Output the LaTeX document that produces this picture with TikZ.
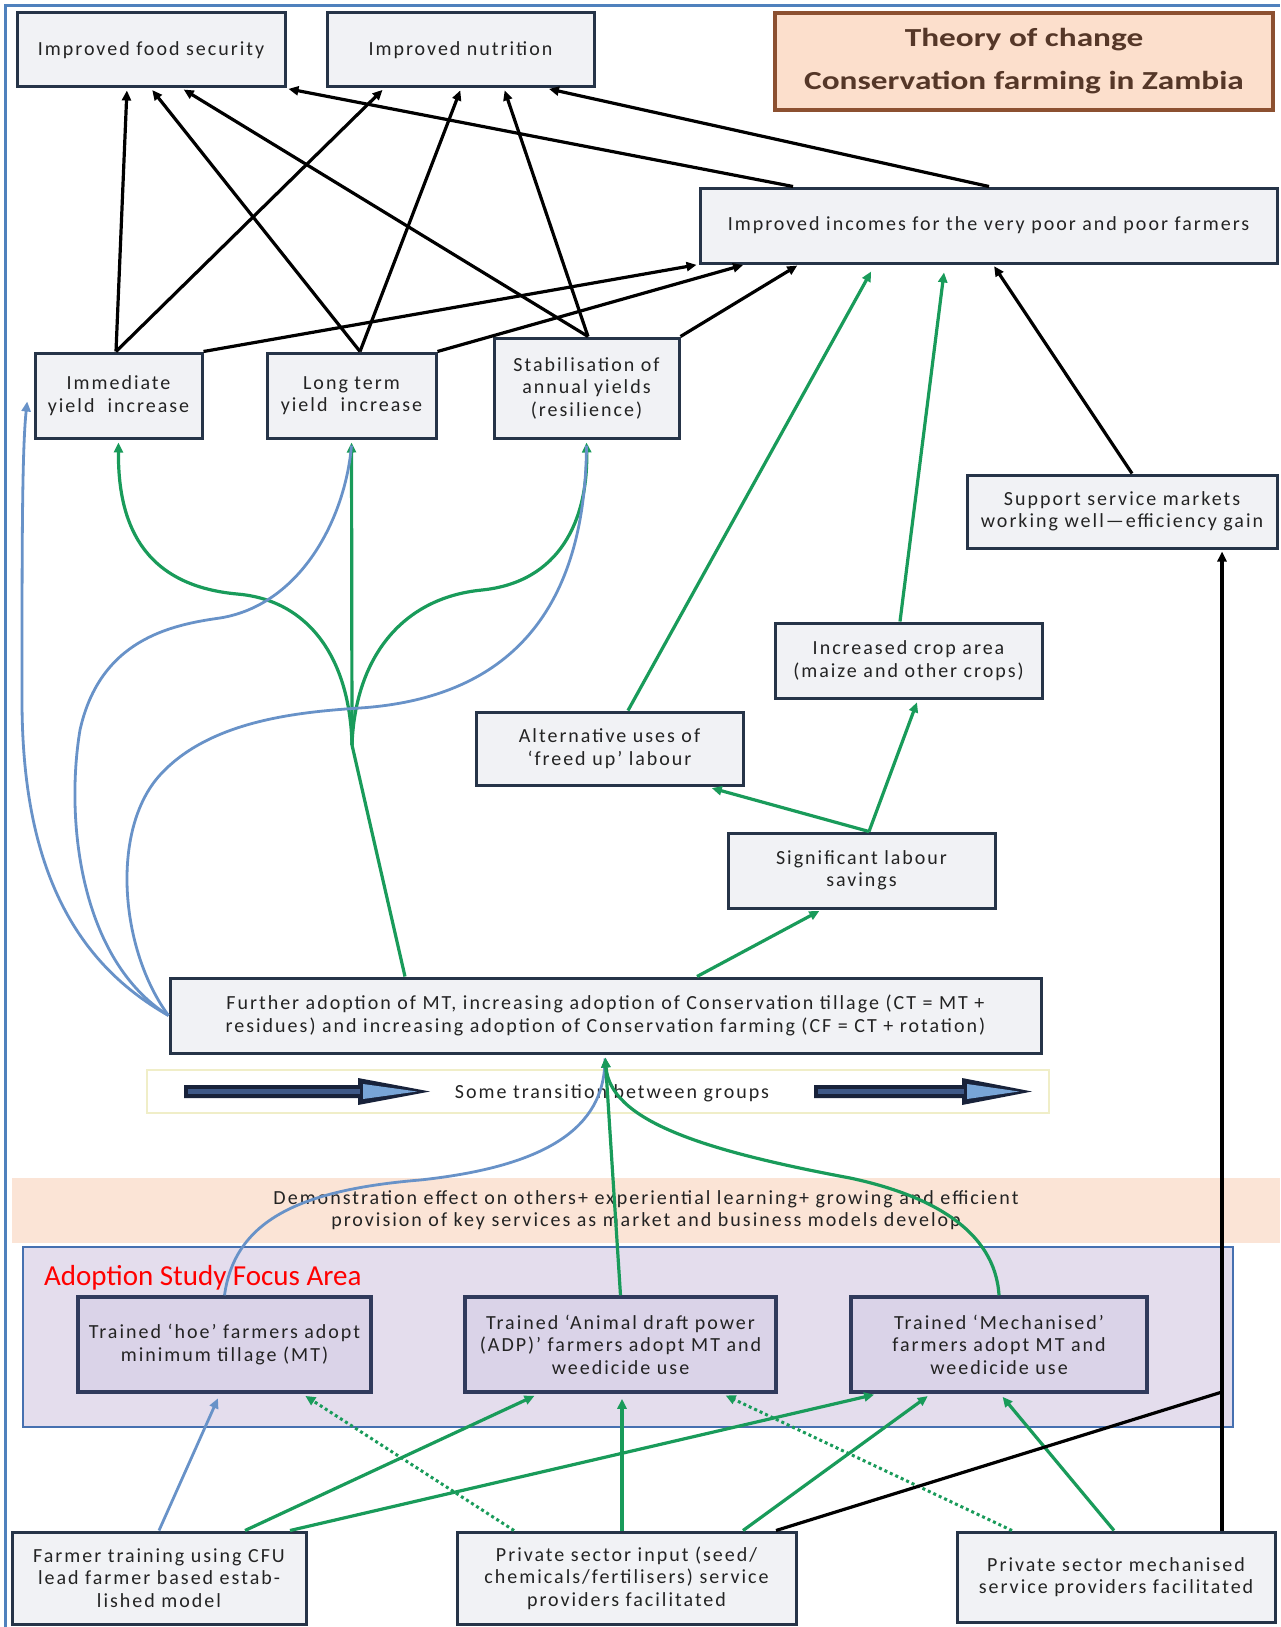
\documentclass[tikz,border=0pt]{standalone}
\usepackage{fontspec}
\setmainfont{Carlito}
\newfontfamily\bxfont[LetterSpace=10]{Carlito}
\usetikzlibrary{arrows.meta,calc}
\definecolor{boxline}{RGB}{38,52,72}
\definecolor{boxfill}{RGB}{241,242,245}
\definecolor{grn}{RGB}{25,155,90}
\definecolor{blu}{RGB}{104,146,200}
\definecolor{frameblue}{RGB}{79,129,189}
\definecolor{titlefill}{RGB}{252,223,204}
\definecolor{titleline}{RGB}{140,80,48}
\definecolor{titletext}{RGB}{85,55,40}
\definecolor{demofill}{RGB}{251,228,214}
\definecolor{focusfill}{RGB}{228,221,237}
\definecolor{focusline}{RGB}{70,112,176}
\definecolor{trainfill}{RGB}{218,211,232}
\definecolor{trainline}{RGB}{48,58,92}
\definecolor{arrdark}{RGB}{24,34,58}
\definecolor{arrmid}{RGB}{62,88,135}
\definecolor{arrlight}{RGB}{120,165,215}
\definecolor{transline}{RGB}{240,238,200}
\definecolor{txt}{RGB}{35,35,35}
\begin{document}
\begin{tikzpicture}[x=1pt,y=-1pt,
  box/.style={draw=boxline,line width=3pt,fill=boxfill,inner sep=0pt,align=center,text=txt,
    font=\bxfont\fontsize{20}{22.5}\selectfont},
  tbox/.style={box,draw=trainline,line width=3.5pt,fill=trainfill},
  tip/.style={-{Triangle[length=10pt,width=9pt]}},
  blk/.style={draw=black,line width=3.2pt,tip,shorten >=2pt},
  bkline/.style={draw=black,line width=3.2pt},
  garr/.style={draw=grn,line width=3.2pt,tip,shorten >=3pt},
  gline/.style={draw=grn,line width=3.2pt},
  bline/.style={draw=blu,line width=2.8pt},
  barr/.style={bline,tip,shorten >=3pt},
  gdot/.style={draw=grn,line width=3pt,dash pattern=on 3pt off 3pt,tip,shorten >=4pt}
]
\useasboundingbox (0,0) rectangle (1280,1627);
\fill[white] (0,0) rectangle (1280,1627);
% frame
\draw[frameblue,line width=3pt] (5,1627) -- (5,6) -- (1280,6);

% bands
\node[fill=demofill,minimum width=1268pt,minimum height=65pt,inner sep=0pt,align=center,text=txt,
  font=\bxfont\fontsize{20}{22}\selectfont] (demo) at (646,1210.5)
  {Demonstration effect on others+ experiential learning+ growing and efficient\\
   provision of key services as market and business models develop};
\node[draw=focusline,line width=2pt,fill=focusfill,minimum width=1210pt,minimum height=180pt,inner sep=0pt] (focus) at (628,1337) {};
\node[text=red,font=\fontsize{29}{30}\selectfont,anchor=west,inner sep=0pt] (lbl) at (44,1278) {Adoption Study Focus Area};
\node[draw=transline,line width=1.5pt,fill=white,minimum width=902pt,minimum height=43pt,inner sep=0pt] (trans) at (598,1091.5) {};
\node[text=txt,font=\bxfont\fontsize{20}{22}\selectfont,inner sep=0pt] (transtxt) at (612,1093) {Some transition between groups};
% block arrows
\fill[arrdark] (184,1085) -- (358,1085) -- (358,1078) -- (430,1091.5) -- (358,1105) -- (358,1098) -- (184,1098) -- cycle;
\fill[arrmid] (188,1089) -- (360,1089) -- (360,1094) -- (188,1094) -- cycle;
\fill[arrlight] (363,1084) -- (417,1091.5) -- (363,1099) -- cycle;
\fill[arrdark] (814,1085) -- (962,1085) -- (962,1078) -- (1032,1091.5) -- (962,1105) -- (962,1098) -- (814,1098) -- cycle;
\fill[arrmid] (818,1089) -- (964,1089) -- (964,1094) -- (818,1094) -- cycle;
\fill[arrlight] (967,1084) -- (1019,1091.5) -- (967,1099) -- cycle;

% title
\node[draw=titleline,line width=3.5pt,fill=titlefill,minimum width=498pt,minimum height=97pt,inner sep=0pt,
  align=center,text=titletext,font=\bfseries\fontsize{26}{43}\selectfont] (title) at (1024,61.5)
  {\scalebox{1.28}[1]{Theory of change}\\\scalebox{1.28}[1]{Conservation farming in Zambia}};

% boxes
\node[box,minimum width=268pt,minimum height=74pt] (fs) at (151,50) {Improved food security};
\node[box,minimum width=267pt,minimum height=74pt] (nut) at (460.5,50) {Improved nutrition};
\node[box,minimum width=577pt,minimum height=75pt] (inc) at (988.5,225.5) {Improved incomes for the very poor and poor farmers};
\node[box,minimum width=167pt,minimum height=85pt] (imm) at (118.5,395.5) {Immediate\\yield\ \ increase};
\node[box,minimum width=169pt,minimum height=85pt] (lt) at (351.5,395.5) {Long term\\yield\ \ increase};
\node[box,minimum width=185pt,minimum height=100pt] (stab) at (586.5,388) {Stabilisation of\\annual yields\\(resilience)};
\node[box,minimum width=310pt,minimum height=73pt] (sup) at (1122,511.5) {Support service markets\\working well—efficiency gain};
\node[box,minimum width=267pt,minimum height=75pt] (crop) at (908.5,660.5) {Increased crop area\\(maize and other crops)};
\node[box,minimum width=267pt,minimum height=73pt] (alt) at (609.5,748.5) {Alternative uses of\\‘freed up’ labour};
\node[box,minimum width=267pt,minimum height=75pt] (lab) at (861.5,870.5) {Significant labour\\savings};
\node[box,minimum width=871pt,minimum height=75pt] (fur) at (605.5,1015.5)
  {Further adoption of MT, increasing adoption of Conservation tillage (CT = MT +\\
   residues) and increasing adoption of Conservation farming (CF = CT + rotation)};
\node[tbox,minimum width=293pt,minimum height=95pt] (hoe) at (224.5,1344.5) {Trained ‘hoe’ farmers adopt\\minimum tillage (MT)};
\node[tbox,minimum width=311pt,minimum height=95pt] (adp) at (620.5,1344.5) {Trained ‘Animal draft power\\(ADP)’ farmers adopt MT and\\weedicide use};
\node[tbox,minimum width=296pt,minimum height=95pt] (mech) at (999,1344.5) {Trained ‘Mechanised’\\farmers adopt MT and\\weedicide use};
\node[box,minimum width=294pt,minimum height=92pt] (ft) at (159,1578) {Farmer training using CFU\\lead farmer based estab-\\lished model};
\node[box,minimum width=339pt,minimum height=92pt] (psi) at (626.5,1578) {Private sector input (seed/\\chemicals/fertilisers) service\\providers facilitated};
\node[box,minimum width=318pt,minimum height=90pt] (psm) at (1116,1577) {Private sector mechanised\\service providers facilitated};

% top black arrows
\draw[blk] (imm.north -| 116,0) -- (fs.south -| 127,0);
\draw[blk] (imm.north -| 116,0) -- (nut.south -| 384,0);
\draw[blk] (lt.north -| 360,0) -- (fs.south -| 151,0);
\draw[blk] (lt.north -| 360,0) -- (nut.south -| 461,0);
\draw[blk] (stab.north -| 588,0) -- (fs.south -| 182,0);
\draw[blk] (stab.north -| 588,0) -- (nut.south -| 504,0);
\draw[blk] (imm.north east) -- (inc.south west);
\draw[blk] (lt.north east) -- (inc.south -| 745,0);
\draw[blk] (stab.north east) -- (inc.south -| 799,0);
\draw[blk] (inc.north -| 793,0) -- (fs.south east);
\draw[blk] (inc.north -| 989,0) -- (nut.south -| 547,0);
\draw[blk] (sup.north -| 1132,0) -- (inc.south -| 993,0);

% green arrows middle
\draw[garr,shorten >=8pt] (alt.north -| 628,0) -- (inc.south -| 875,0);
\draw[garr,shorten >=8pt] (crop.north -| 900,0) -- (inc.south -| 945,0);
\draw[garr,shorten >=6pt] (lab.north -| 869,0) -- (alt.south -| 706,0);
\draw[garr] (lab.north -| 869,0) -- (crop.south -| 918,0);
\draw[garr] (fur.north -| 697,0) -- (lab.south -| 822,0);

% branching green from further adoption
\coordinate (jn) at (352,745);
\draw[gline] (fur.north -| 405,0) -- (jn);
\draw[garr] (jn) -- (lt.south);
\draw[garr] (jn) .. controls (350,660) and (310,600) .. (237,594) .. controls (140,585) and (118,520) .. (imm.south);
\draw[garr] (jn) .. controls (355,660) and (400,598) .. (482,590) .. controls (560,582) and (588,520) .. (stab.south);

% blue curves from further adoption
\draw[barr] (fur.west) .. controls (70,960) and (22,860) .. (22,700) .. controls (22,550) and (22,450) .. ([xshift=-6pt,yshift=-3pt]imm.west);
\draw[bline] (fur.west) .. controls (80,960) and (65,820) .. (80,730) .. controls (100,640) and (170,625) .. (220,618) .. controls (300,605) and (345,520) .. ([yshift=-6pt]lt.south);
\draw[bline] (fur.west) .. controls (120,950) and (110,830) .. (160,775) .. controls (210,720) and (300,712) .. (360,708) .. controls (480,700) and (585,640) .. ([yshift=-6pt]stab.south);

% from trained groups to further adoption
\draw[bline] (hoe.north) .. controls (235,1220) and (300,1190) .. (420,1180) .. controls (560,1165) and (605,1120) .. ([yshift=-4pt]fur.south -| 605,0);
\draw[garr] (adp.north) -- (fur.south -| 605,0);
\draw[garr] (mech.north) .. controls (995,1230) and (930,1195) .. (850,1178) .. controls (700,1150) and (610,1120) .. (fur.south -| 605,0);

% bottom arrows
\draw[barr,shorten >=5pt] (ft.north) -- (hoe.south -| 220,0);
\draw[garr,shorten >=5pt] (ft.north -| 245,0) -- (adp.south -| 539,0);
\draw[garr,shorten >=4pt] (ft.north -| 290,0) -- (mech.south -| 878,0);
\draw[gdot] (psi.north -| 514,0) -- (hoe.south -| 302,0);
\draw[garr,shorten >=5pt] (psi.north -| 622,0) -- (adp.south -| 622,0);
\draw[garr,shorten >=4pt] (psi.north -| 743,0) -- (mech.south -| 931,0);
\draw[gdot] (psm.north -| 1012,0) -- (adp.south -| 722,0);
\draw[garr,shorten >=4pt] (psm.north -| 1114,0) -- (mech.south -| 1000,0);
\coordinate (mj) at (1222,1392);
\draw[bkline] (psi.north -| 776,0) -- (mj);
\draw[blk] (psm.north -| 1222,0) -- (sup.south -| 1222,0);
\end{tikzpicture}
\end{document}
